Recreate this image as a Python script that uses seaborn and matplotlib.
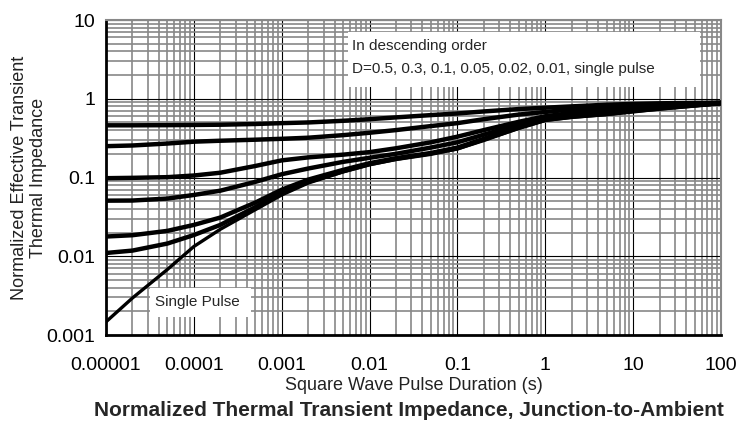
import numpy as np
import pandas as pd
import matplotlib
matplotlib.use("Agg")
import matplotlib.pyplot as plt
import matplotlib.patches as patches
from matplotlib.ticker import LogLocator, FixedLocator, NullFormatter
import seaborn as sns

# Square wave pulse duration (s)
pulse_time = [1e-5, 2e-5, 5e-5, 1e-4, 2e-4, 5e-4, 1e-3, 2e-3, 5e-3, 1e-2, 2e-2, 5e-2,
              0.1, 0.2, 0.5, 1, 2, 5, 10, 20, 50, 100]

# Normalized effective transient thermal impedance for each duty cycle
z_d050 = [0.46, 0.46, 0.462, 0.465, 0.468, 0.478, 0.49, 0.50, 0.525, 0.55, 0.58, 0.62,
          0.65, 0.69, 0.74, 0.77, 0.80, 0.84, 0.86, 0.875, 0.885, 0.89]
z_d030 = [0.25, 0.255, 0.27, 0.285, 0.293, 0.302, 0.31, 0.32, 0.345, 0.37, 0.40, 0.45,
          0.49, 0.55, 0.63, 0.68, 0.73, 0.79, 0.82, 0.85, 0.87, 0.89]
z_d010 = [0.098, 0.099, 0.101, 0.106, 0.115, 0.140, 0.165, 0.18, 0.195, 0.21, 0.235, 0.28,
          0.33, 0.40, 0.51, 0.60, 0.66, 0.73, 0.78, 0.82, 0.855, 0.885]
z_d005 = [0.0508, 0.051, 0.054, 0.060, 0.068, 0.088, 0.110, 0.130, 0.158, 0.178, 0.20, 0.24,
          0.28, 0.35, 0.47, 0.57, 0.62, 0.69, 0.75, 0.79, 0.84, 0.88]
z_d002 = [0.0178, 0.0185, 0.021, 0.025, 0.031, 0.048, 0.070, 0.094, 0.125, 0.152, 0.176, 0.205,
          0.24, 0.31, 0.44, 0.55, 0.60, 0.66, 0.72, 0.77, 0.83, 0.88]
z_d001 = [0.011, 0.0118, 0.0145, 0.0186, 0.025, 0.042, 0.064, 0.088, 0.12, 0.148, 0.172, 0.20,
          0.235, 0.30, 0.43, 0.54, 0.59, 0.64, 0.70, 0.75, 0.82, 0.875]
z_single = [0.00147, 0.00295, 0.0068, 0.0133, 0.022, 0.039, 0.060, 0.085, 0.118, 0.145, 0.17, 0.20,
            0.23, 0.30, 0.42, 0.53, 0.58, 0.63, 0.68, 0.74, 0.81, 0.87]

series_names = ["D=0.5", "D=0.3", "D=0.1", "D=0.05", "D=0.02", "D=0.01", "Single Pulse"]
series_values = [z_d050, z_d030, z_d010, z_d005, z_d002, z_d001, z_single]

x_tick_values = [1e-5, 1e-4, 1e-3, 1e-2, 1e-1, 1, 10, 100]
x_tick_labels = ["0.00001", "0.0001", "0.001", "0.01", "0.1", "1", "10", "100"]
y_tick_values = [0.001, 0.01, 0.1, 1, 10]
y_tick_labels = ["0.001", "0.01", "0.1", "1", "10"]

sns.set_theme(style="white")
plt.rcParams["font.family"] = ["Liberation Sans", "DejaVu Sans"]

df = pd.concat(
    [pd.DataFrame({"t": pulse_time, "z": vals, "series": name})
     for name, vals in zip(series_names, series_values)],
    ignore_index=True,
)

fig = plt.figure(figsize=(7.4, 4.23), dpi=100)
ax = fig.add_axes([106 / 740, 1 - 335 / 423, 615 / 740, 315 / 423])

for name in series_names:
    sub = df[df["series"] == name]
    lw = 2.4 if name == "Single Pulse" else 3.2
    sns.lineplot(data=sub, x="t", y="z", color="black", linewidth=lw,
                 ax=ax, legend=False, zorder=4, solid_capstyle="butt",
                 solid_joinstyle="round")

ax.set_xscale("log")
ax.set_yscale("log")
ax.set_xlim(1e-5, 100)
ax.set_ylim(0.001, 10)

ax.xaxis.set_major_locator(FixedLocator(x_tick_values))
ax.set_xticklabels(x_tick_labels)
ax.yaxis.set_major_locator(FixedLocator(y_tick_values))
ax.set_yticklabels(y_tick_labels)
ax.xaxis.set_minor_locator(LogLocator(base=10, subs=np.arange(2, 10), numticks=50))
ax.yaxis.set_minor_locator(LogLocator(base=10, subs=np.arange(2, 10), numticks=50))
ax.xaxis.set_minor_formatter(NullFormatter())
ax.yaxis.set_minor_formatter(NullFormatter())

ax.set_axisbelow(True)
ax.grid(which="minor", color="#888888", linewidth=1.2)
ax.grid(which="major", color="black", linewidth=0.8)

ax.tick_params(which="both", length=0, labelsize=14, colors="black")
ax.tick_params(axis="x", pad=16)
ax.tick_params(axis="y", pad=8)

for side in ("top", "right"):
    ax.spines[side].set_color("#888888")
    ax.spines[side].set_linewidth(1.5)
for side in ("left", "bottom"):
    ax.spines[side].set_color("black")
    ax.spines[side].set_linewidth(2.0)

ax.set_xlabel("Square Wave Pulse Duration (s)", fontsize=13, color="#222222", labelpad=2)
ax.set_ylabel("Normalized Effective Transient\nThermal Impedance", fontsize=13,
              color="#222222", labelpad=-1)

# Annotation boxes
ax.add_patch(patches.Rectangle((0.3935, 0.787), 0.5724, 0.1746, transform=ax.transAxes,
                               facecolor="white", edgecolor="none", zorder=3))
ax.text(0.40, 0.917, "In descending order", transform=ax.transAxes, fontsize=11,
        va="center", ha="left", zorder=5)
ax.text(0.40, 0.844, "D=0.5, 0.3, 0.1, 0.05, 0.02, 0.01, single pulse",
        transform=ax.transAxes, fontsize=11, va="center", ha="left", zorder=5)

ax.add_patch(patches.Rectangle(((150 - 106) / 615, (335 - 317) / 315), 101 / 615, 29 / 315,
                               transform=ax.transAxes, facecolor="white",
                               edgecolor="none", zorder=3))
ax.text((155 - 106) / 615, (335 - 302) / 315, "Single Pulse", transform=ax.transAxes,
        fontsize=11, va="center", ha="left", zorder=5)

fig.text(409 / 740, 1 - 410 / 423,
         "Normalized Thermal Transient Impedance, Junction-to-Ambient",
         fontsize=15, fontweight="bold", ha="center", va="center")

fig.savefig("out.png", dpi=100)
